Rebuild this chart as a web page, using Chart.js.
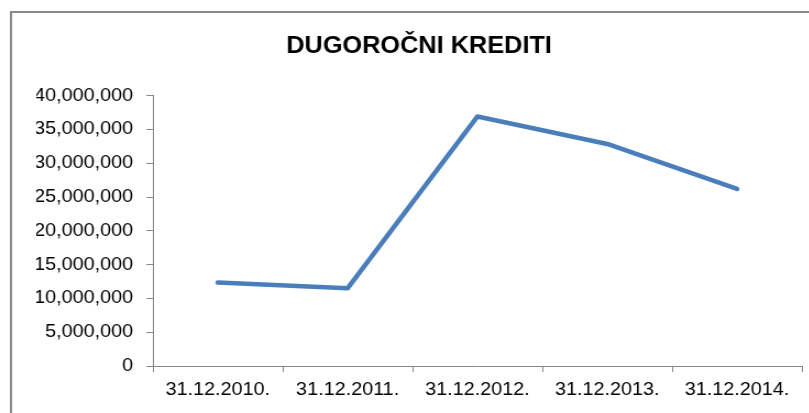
<!DOCTYPE html>
<html>
<head>
<meta charset="utf-8">
<title>Dugoročni krediti</title>
<script src="https://cdn.jsdelivr.net/npm/chart.js@4.4.1/dist/chart.umd.min.js"></script>
<style>
  html, body { margin: 0; padding: 0; background: #fff; overflow: hidden; }
  #wrap { width: 736px; height: 413px; transform: scaleX(1.1); transform-origin: 0 0; }
  canvas { display: block; }
</style>
</head>
<body>
<div id="wrap"><canvas id="chart" width="736" height="413"></canvas></div>
<script>
// Stanje dugoročnih kredita na kraju godine
const dates = ['31.12.2010.', '31.12.2011.', '31.12.2012.', '31.12.2013.', '31.12.2014.'];
const credits = [12350000, 11500000, 36900000, 32850000, 26200000];
const yMin = 0;
const yMax = 40000000;
const yStep = 5000000;

const FONT = "'Liberation Sans', Arial, sans-serif";
const AXIS_GREY = '#888888';

// Siva okvirna linija oko cijelog grafikona
const chartFrame = {
  id: 'chartFrame',
  beforeDraw(chart) {
    const ctx = chart.ctx;
    ctx.save();
    ctx.strokeStyle = '#8a8a8a';
    ctx.lineWidth = 2;
    ctx.strokeRect(10, 12, chart.width + 40, chart.height + 40);
    ctx.restore();
  }
};

new Chart(document.getElementById('chart'), {
  type: 'line',
  data: {
    labels: dates,
    datasets: [{
      label: 'Dugoročni krediti',
      data: credits,
      borderColor: '#4A7EBB',
      backgroundColor: '#4A7EBB',
      borderWidth: 4.5,
      borderJoinStyle: 'round',
      borderCapStyle: 'round',
      pointRadius: 0,
      tension: 0,
      fill: false
    }]
  },
  options: {
    responsive: false,
    animation: false,
    layout: { padding: { left: 33, right: 7, top: 0, bottom: 0 } },
    plugins: {
      legend: { display: false },
      tooltip: { enabled: false },
      title: {
        display: true,
        text: 'DUGOROČNI KREDITI',
        color: '#000',
        font: { family: FONT, size: 23, weight: 'bold' },
        padding: { top: 33, bottom: 35 }
      }
    },
    scales: {
      x: {
        offset: true,
        grid: {
          offset: true,
          drawOnChartArea: false,
          drawTicks: true,
          tickLength: 6,
          color: AXIS_GREY
        },
        border: { display: true, color: AXIS_GREY, width: 1 },
        ticks: {
          color: '#000',
          font: { family: FONT, size: 18 },
          padding: 7,
          maxRotation: 0,
          autoSkip: false
        },
        afterFit(scale) { scale.height = 47; }
      },
      y: {
        min: yMin,
        max: yMax,
        grid: {
          drawOnChartArea: false,
          drawTicks: true,
          tickLength: 6,
          color: AXIS_GREY
        },
        border: { display: true, color: AXIS_GREY, width: 1 },
        ticks: {
          stepSize: yStep,
          color: '#000',
          font: { family: FONT, size: 18 },
          padding: 12,
          callback: (v) => Number(v).toLocaleString('en-US')
        },
        afterFit(scale) { scale.width = 106; }
      }
    }
  },
  plugins: [chartFrame]
});
</script>
</body>
</html>
